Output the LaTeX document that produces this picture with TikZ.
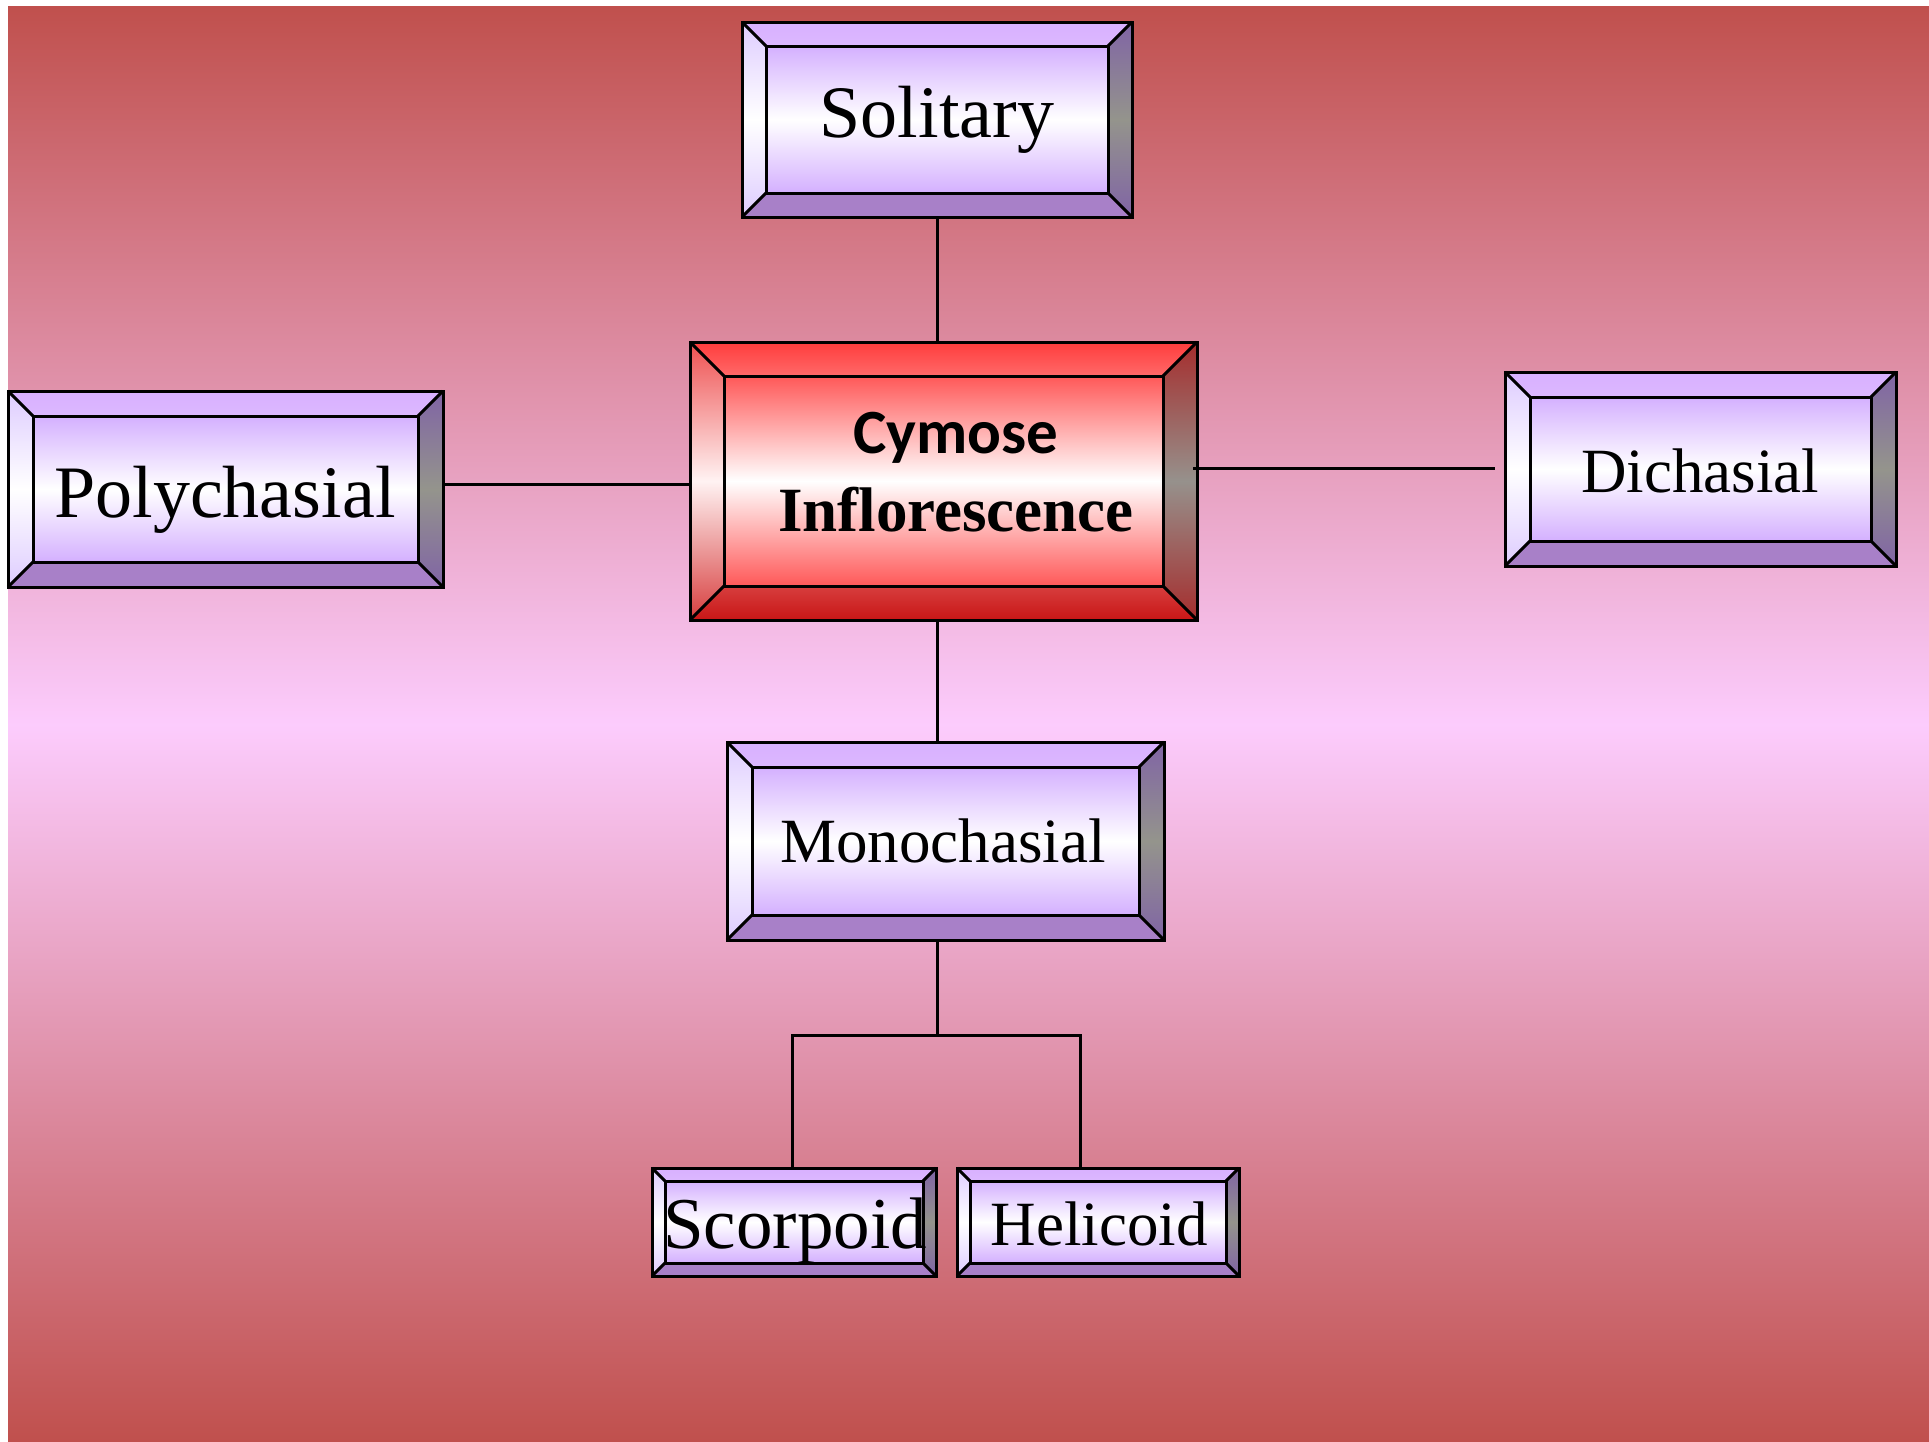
\documentclass[tikz,border=0pt]{standalone}
\usepackage{fontspec}
\setmainfont{Liberation Serif}
\newfontfamily\calfont{Carlito}
\usetikzlibrary{fit}
\definecolor{bgred}{RGB}{192,80,77}
\definecolor{bgpink}{RGB}{252,204,253}
\definecolor{vtop}{RGB}{216,176,255}
\definecolor{vface}{RGB}{212,176,255}
\definecolor{vleft}{RGB}{222,204,255}
\definecolor{vbot}{RGB}{168,128,200}
\definecolor{vright}{RGB}{128,100,165}
\definecolor{vgray}{RGB}{148,148,140}
\definecolor{rtop}{RGB}{255,60,60}
\definecolor{rtop2}{RGB}{255,105,105}
\definecolor{rface}{RGB}{255,88,88}
\definecolor{rleft}{RGB}{238,80,80}
\definecolor{rbot}{RGB}{200,22,22}
\definecolor{rbot2}{RGB}{215,62,62}
\definecolor{rright}{RGB}{165,45,45}
\definecolor{rgray}{RGB}{150,145,140}
\tikzset{
  vio top/.style={top color=vtop, bottom color=vtop!90!white},
  vio bot/.style={top color=vbot, bottom color=vbot},
  vio left/.style={top color=vleft, bottom color=vleft, middle color=white},
  vio right/.style={top color=vright, bottom color=vright, middle color=vgray},
  vio face/.style={top color=vface, bottom color=vface, middle color=white},
  red top/.style={top color=rtop, bottom color=rtop2},
  red bot/.style={top color=rbot2, bottom color=rbot},
  red left/.style={top color=rleft, bottom color=rbot2, middle color=white!95!red},
  red right/.style={top color=rright, bottom color=rright, middle color=rgray},
  red face/.style={top color=rface, bottom color=rface, middle color=white},
  boxline/.style={draw=black, line width=3pt, line join=miter},
  conn/.style={draw=black, line width=3pt},
  lbl/.style={anchor=base, inner sep=0pt, text=black},
}
\newcommand\bevbox[7]{%
  \pgfmathsetmacro\bax{#2+#6}\pgfmathsetmacro\bay{#3+#6}%
  \pgfmathsetmacro\bbx{#4-#6}\pgfmathsetmacro\bby{#5-#6}%
  \path[#7 top] (#2,#3) -- (#4,#3) -- (\bbx,\bay) -- (\bax,\bay) -- cycle;
  \path[#7 bot] (#2,#5) -- (#4,#5) -- (\bbx,\bby) -- (\bax,\bby) -- cycle;
  \path[#7 left] (#2,#3) -- (\bax,\bay) -- (\bax,\bby) -- (#2,#5) -- cycle;
  \path[#7 right] (#4,#3) -- (\bbx,\bay) -- (\bbx,\bby) -- (#4,#5) -- cycle;
  \path[#7 face] (\bax,\bay) rectangle (\bbx,\bby);
  \draw[boxline] (#2,#3) rectangle (#4,#5);
  \draw[boxline] (\bax,\bay) rectangle (\bbx,\bby);
  \draw[boxline] (#2,#3) -- (\bax,\bay) (#4,#3) -- (\bbx,\bay)
                 (#2,#5) -- (\bax,\bby) (#4,#5) -- (\bbx,\bby);
  \coordinate (#1-nw) at (#2,#3);
  \coordinate (#1-se) at (#4,#5);
  \node[fit=(#1-nw)(#1-se), inner sep=0pt] (#1) {};
}
\begin{document}
\begin{tikzpicture}[x=1pt,y=-1pt]
\useasboundingbox (0,0) rectangle (1929,1441);
\fill[white] (0,0) rectangle (1929,1441);
% background
\shade[top color=bgred, bottom color=bgpink] (8,6) rectangle (1929,725);
\shade[top color=bgpink, bottom color=bgred] (8,724) rectangle (1929,1441);
% boxes
\bevbox{sol}{742}{22}{1132}{217}{24}{vio}
\bevbox{cen}{690}{342}{1197}{620}{34}{red}
\bevbox{poly}{8}{391}{443}{587}{25}{vio}
\bevbox{dich}{1505}{372}{1896}{566}{25}{vio}
\bevbox{mono}{727}{742}{1164}{940}{25}{vio}
\bevbox{scor}{652}{1168}{936}{1276}{13}{vio}
\bevbox{heli}{957}{1168}{1239}{1276}{13}{vio}
% labels
\node[lbl, font=\fontsize{74}{80}\selectfont] (soltxt) at (937,137) {Solitary};
\node[lbl, font=\calfont\bfseries\fontsize{63}{70}\selectfont] (cymtxt) at (956,453) {Cymose};
\node[lbl, font=\bfseries\fontsize{63}{70}\selectfont] (inftxt) at (956,531) {Inflorescence};
\node[lbl, font=\fontsize{74}{80}\selectfont] (polytxt) at (225,517) {Polychasial};
\node[lbl, font=\fontsize{63}{70}\selectfont] (dichtxt) at (1700,492) {Dichasial};
\node[lbl, font=\fontsize{63}{70}\selectfont] (monotxt) at (943,862) {Monochasial};
\node[lbl, font=\fontsize{73}{80}\selectfont] (scortxt) at (795,1248) {Scorpoid};
\node[lbl, font=\fontsize{63}{70}\selectfont] (helitxt) at (1099,1245) {Helicoid};
% connectors
\coordinate (pl) at (560,484);
\coordinate (dj) at (1495,468);
\coordinate (jn) at (937,1035);
\coordinate (jl) at (792,1035);
\coordinate (jr) at (1080,1035);
\draw[conn] (sol.south) -- (sol.south |- cen.north);
\draw[conn] (cen.south -| sol.south) -- (mono.north -| sol.south);
\draw[conn] (poly.east |- pl) -- (cen.west |- pl);
\draw[conn] ([xshift=-4pt]cen.east |- dj) -- (dj);
\draw[conn] (mono.south -| sol.south) -- (jn);
\draw[conn] (jl |- scor.north) -- (jl) -- (jr) -- (jr |- heli.north);
\end{tikzpicture}
\end{document}
